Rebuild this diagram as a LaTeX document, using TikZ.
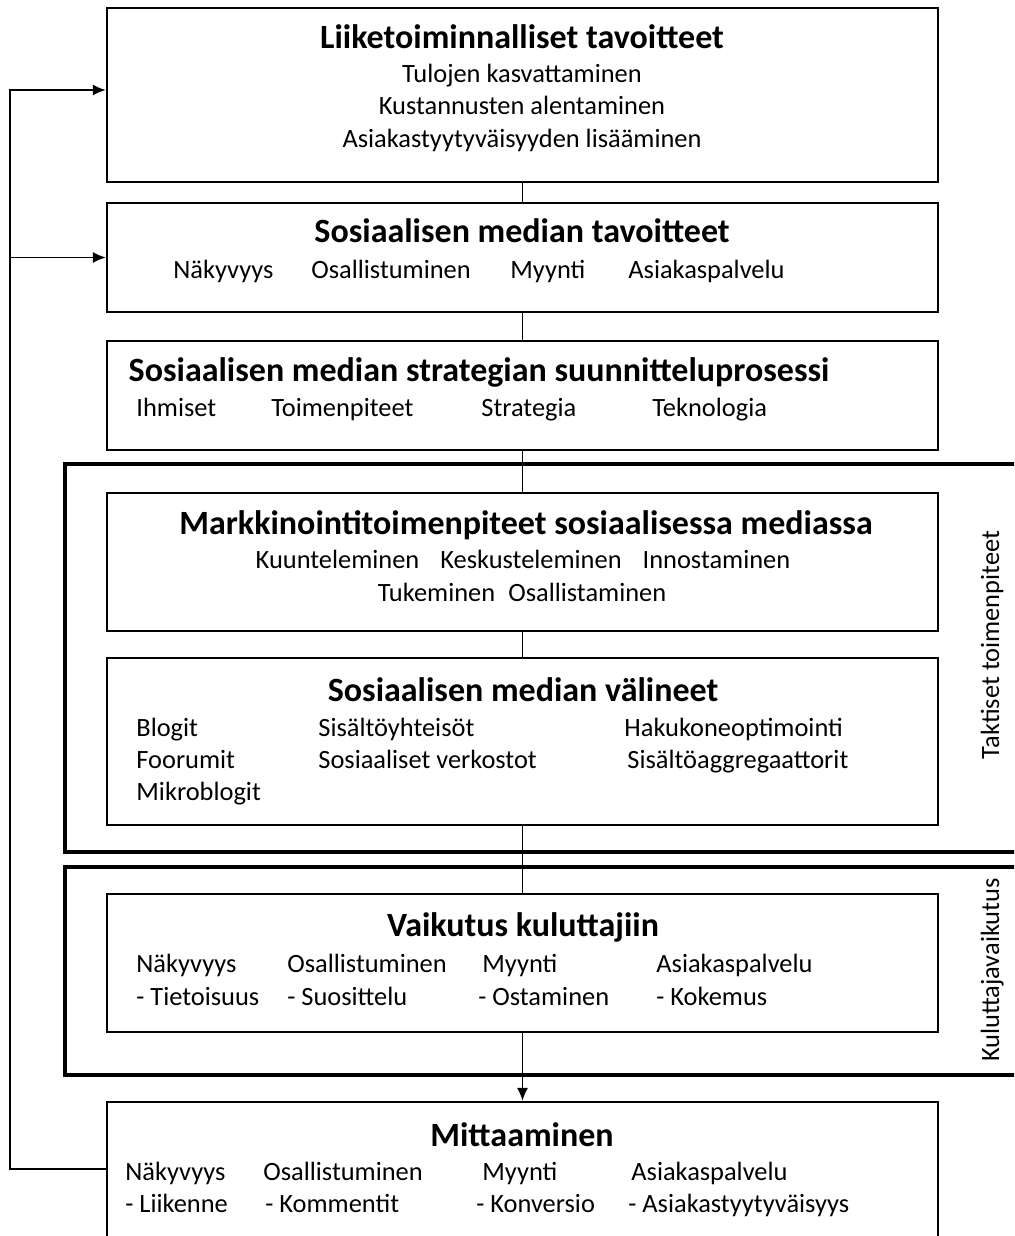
\documentclass[tikz,border=0pt]{standalone}
\usepackage{fontspec}
\setmainfont{Carlito}
\usetikzlibrary{arrows.meta}

\begin{document}
\begin{tikzpicture}[x=0.5pt, y=-0.5pt,
    box/.style={draw, line width=1.1pt, minimum width=415.5pt, minimum height=#1, inner sep=0pt},
    frame/.style={draw, line width=1.7pt},
    head/.style={font=\fontsize{17}{20}\selectfont\bfseries, inner sep=0pt, text height=12pt, text depth=1pt},
    txt/.style={font=\fontsize{13.2}{16}\selectfont, inner sep=0pt, text height=11pt, text depth=1pt},
    item/.style={txt, anchor=west},
    conn/.style={line width=0.9pt},
    side/.style={txt, text height=9pt, text depth=3pt, rotate=90}]

    \useasboundingbox (0,0) rectangle (1014,1236);
    \clip (0,0) rectangle (1014,1236);

    % ryhmien kehykset
    \draw[frame] (65,464) rectangle (1040,852);
    \draw[frame] (65,867) rectangle (1040,1075);
    \node[side] (taktiset) at (993,645) {Taktiset toimenpiteet};
    \node[side] (kuluttaja) at (993,970) {Kuluttajavaikutus};

    % laatikot
    \node[box=87pt] (b1) at (522.5,95) {};
    \node[box=54.5pt] (b2) at (522.5,257.5) {};
    \node[box=54.5pt] (b3) at (522.5,395.5) {};
    \node[box=69pt] (b4) at (522.5,562) {};
    \node[box=83.5pt] (b5) at (522.5,741.5) {};
    \node[box=69pt] (b6) at (522.5,963) {};
    \node[box=74pt] (b7) at (522.5,1176) {};

    % liiketoiminnalliset tavoitteet
    \node[head] (t1) at (522,38) {Liiketoiminnalliset tavoitteet};
    \node[txt] (l11) at (522,73) {Tulojen kasvattaminen};
    \node[txt] (l12) at (522,105) {Kustannusten alentaminen};
    \node[txt] (l13) at (522,138) {Asiakastyytyväisyyden lisääminen};

    % somen tavoitteet
    \node[head] (t2) at (522,231) {Sosiaalisen median tavoitteet};
    \node[item] (l21) at (173,268) {Näkyvyys};
    \node[item] (l22) at (311,268) {Osallistuminen};
    \node[item] (l23) at (510,268) {Myynti};
    \node[item] (l24) at (628,268) {Asiakaspalvelu};

    % strategia
    \node[head] (t3) at (479,370) {Sosiaalisen median strategian suunnitteluprosessi};
    \node[item] (l31) at (136,406) {Ihmiset};
    \node[item] (l32) at (271,406) {Toimenpiteet};
    \node[item] (l33) at (481,406) {Strategia};
    \node[item] (l34) at (652,406) {Teknologia};

    % markkinointitoimenpiteet
    \node[head] (t4) at (526,523) {Markkinointitoimenpiteet sosiaalisessa mediassa};
    \node[txt] (l41) at (523,558) {Kuunteleminen\hspace{0.8em}Keskusteleminen\hspace{0.8em}Innostaminen};
    \node[txt] (l42) at (522,591) {Tukeminen\hspace{0.5em}Osallistaminen};

    % valineet
    \node[head] (t5) at (523,690) {Sosiaalisen median välineet};
    \node[item] (l51) at (136,726) {Blogit};
    \node[item] (l52) at (136,758) {Foorumit};
    \node[item] (l53) at (136,790) {Mikroblogit};
    \node[item] (l54) at (318,726) {Sisältöyhteisöt};
    \node[item] (l55) at (318,758) {Sosiaaliset verkostot};
    \node[item] (l56) at (624,726) {Hakukoneoptimointi};
    \node[item] (l57) at (627,758) {Sisältöaggregaattorit};

    % vaikutus kuluttajiin
    \node[head] (t6) at (523,925) {Vaikutus kuluttajiin};
    \node[item] (l61) at (136,962) {Näkyvyys};
    \node[item] (l62) at (287,962) {Osallistuminen};
    \node[item] (l63) at (482,962) {Myynti};
    \node[item] (l64) at (656,962) {Asiakaspalvelu};
    \node[item] (l65) at (136,995) {- Tietoisuus};
    \node[item] (l66) at (287,995) {- Suosittelu};
    \node[item] (l67) at (478,995) {- Ostaminen};
    \node[item] (l68) at (656,995) {- Kokemus};

    % mittaaminen
    \node[head] (t7) at (522,1135) {Mittaaminen};
    \node[item] (l71) at (125,1170) {Näkyvyys};
    \node[item] (l72) at (263,1170) {Osallistuminen};
    \node[item] (l73) at (482,1170) {Myynti};
    \node[item] (l74) at (631,1170) {Asiakaspalvelu};
    \node[item] (l75) at (125,1202) {- Liikenne};
    \node[item] (l76) at (265,1202) {- Kommentit};
    \node[item] (l77) at (476,1202) {- Konversio};
    \node[item] (l78) at (628,1202) {- Asiakastyytyväisyys};

    % yhteydet
    \draw[conn] (b1) -- (b2);
    \draw[conn] (b2) -- (b3);
    \draw[conn] (b3) -- (b4);
    \draw[conn] (b4) -- (b5);
    \draw[conn] (b5) -- (b6);
    \draw[conn, -{Latex[length=6.5pt,width=5.5pt]}] (b6) -- (b7);

    % palaute mittaamisesta tavoitteisiin
    \coordinate (fb) at (10,257.5);
    \draw[conn, -{Latex[length=6.5pt,width=5.5pt]}] ([yshift=3.5pt]b7.west) -| ([yshift=2.5pt]b1.west -| fb) -- ([yshift=2.5pt]b1.west);
    \draw[conn, -{Latex[length=6.5pt,width=5.5pt]}] (fb) -- (b2.west);
\end{tikzpicture}
\end{document}
